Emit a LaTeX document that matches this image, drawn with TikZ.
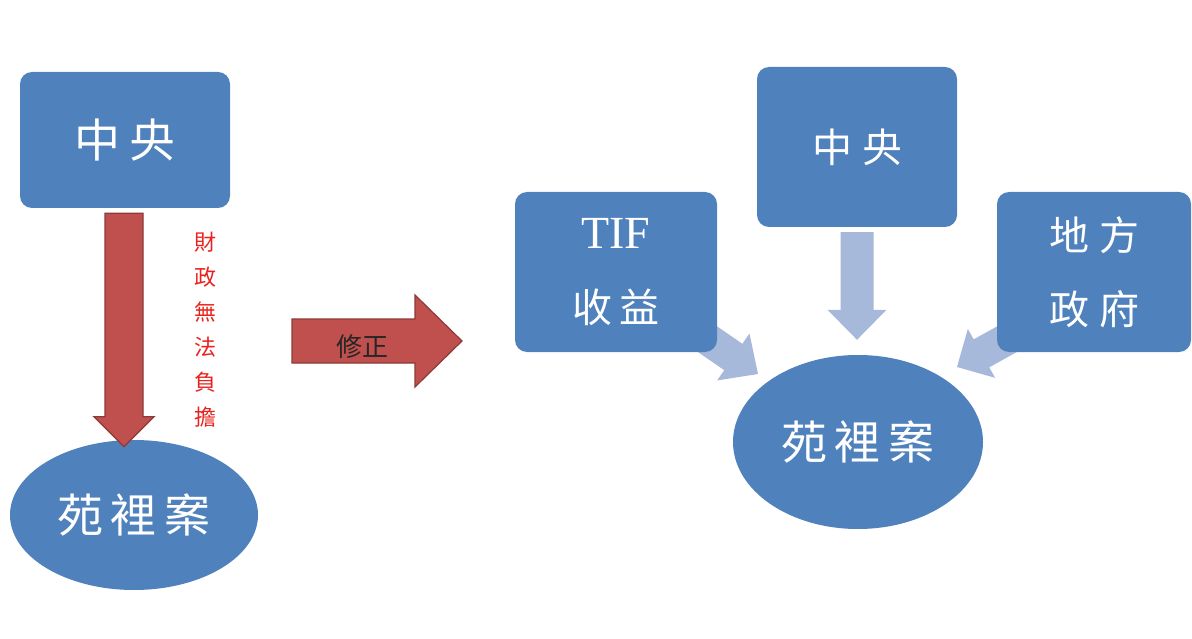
\documentclass[tikz,border=0pt]{standalone}
\usepackage{fontspec}
\setmainfont{Liberation Serif}
\newfontfamily\cjk{Noto Sans CJK TC}
\usetikzlibrary{calc,shapes.geometric}
\definecolor{boxblue}{HTML}{4F81BD}
\definecolor{lightblue}{HTML}{A7B9DA}
\definecolor{arrred}{HTML}{C0504D}
\definecolor{arrborder}{HTML}{8C3A38}
\definecolor{txtred}{HTML}{E8231F}
% #1 style, #2 start, #3 tip, #4 shaft half width, #5 head half width, #6 head length
\newcommand\fatarrow[6]{%
  \coordinate (fah) at ($(#3)!#6!(#2)$);
  \path[#1] ($(#2)!#4!90:(#3)$) -- ($(fah)!#4!90:(#3)$) -- ($(fah)!#5!90:(#3)$) -- (#3)
    -- ($(fah)!#5!-90:(#3)$) -- ($(fah)!#4!-90:(#3)$) -- ($(#2)!#4!-90:(#3)$) -- cycle;}
\tikzset{
  box/.style={fill=boxblue, rounded corners=12pt, inner sep=0pt, text=white, align=center},
  oval/.style={ellipse, fill=boxblue, inner sep=0pt, text=white},
  redarrow/.style={fill=arrred, draw=arrborder, line width=1.2pt, line join=miter},
  lightarrow/.style={fill=lightblue},
  bigcjk/.style={font=\cjk\fontsize{46}{46}\selectfont},
  midcjk/.style={font=\cjk\fontsize{40}{70}\selectfont},
}
\begin{document}
\begin{tikzpicture}[x=1pt, y=-1pt]
\useasboundingbox (0,0) rectangle (1192,639);
\fill[white] (0,0) rectangle (1192,639);

% ---- left part ----
\node[box, minimum width=210pt, minimum height=136pt, bigcjk] (lc) at (125,140) {中\hspace{9pt}央};
\node[oval, minimum width=248pt, minimum height=150pt, bigcjk] (le) at (134,515) {苑\hspace{8pt}裡\hspace{8pt}案};
\coordinate (ra1) at ($(lc.south)+(-1,5)$);
\coordinate (ra2) at ($(le.north)+(-10,7)$);
\fatarrow{redarrow}{ra1}{ra2}{19pt}{30pt}{30pt}
\node[text=txtred, font=\cjk\fontsize{22}{35}\selectfont, align=center, inner sep=0pt] (note) at (205,330)
  {財\\政\\無\\法\\負\\擔};

% ---- middle arrow ----
\coordinate (ma1) at (292,341);
\coordinate (ma2) at (462,341);
\fatarrow{redarrow}{ma1}{ma2}{22pt}{46pt}{47pt}
\node[font=\cjk\fontsize{26}{26}\selectfont, text=black!85, inner sep=0pt] (fix) at (362,347) {修正};

% ---- right part: diagonal arrows first (partly hidden behind the boxes) ----
\coordinate (la1) at (684,323);
\coordinate (la2) at (758,374);
\coordinate (rb1) at (1036,323);
\coordinate (rb2) at (957,367);
\fatarrow{lightarrow}{la1}{la2}{16pt}{28.5pt}{30pt}
\fatarrow{lightarrow}{rb1}{rb2}{16pt}{28pt}{28pt}

\node[box, minimum width=200pt, minimum height=160pt, midcjk] (rc) at (857,147) {中\hspace{10pt}央};
\node[box, minimum width=202pt, minimum height=160pt, midcjk] (tb) at (616,272)
  {{\fontsize{46}{46}\rmfamily TIF}\\[4pt]收\hspace{7pt}益};
\node[box, minimum width=194pt, minimum height=160pt, midcjk] (db) at (1094,272)
  {地\hspace{10pt}方\\[4pt]政\hspace{10pt}府};
\node[oval, minimum width=250pt, minimum height=174pt, bigcjk] (re) at (858,442) {苑\hspace{8pt}裡\hspace{8pt}案};

\coordinate (da1) at ($(rc.south)+(0,5)$);
\coordinate (da2) at ($(re.north)+(-1,-15)$);
\fatarrow{lightarrow}{da1}{da2}{16.5pt}{29.5pt}{30pt}
\end{tikzpicture}
\end{document}
